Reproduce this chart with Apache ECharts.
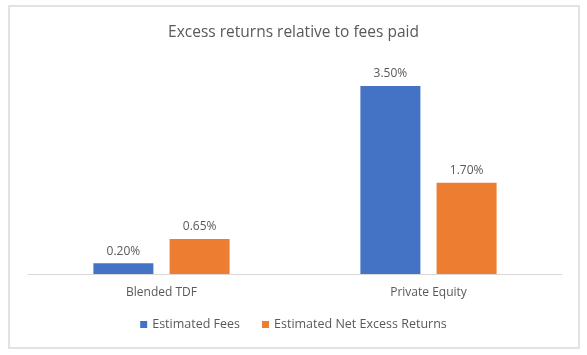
<!DOCTYPE html>
<html><head><meta charset="utf-8">
<script src="https://cdn.jsdelivr.net/npm/echarts@6/dist/echarts.min.js"></script>
<style>html,body{margin:0;padding:0;background:#fff}#c{width:587px;height:355px}</style>
</head><body><div id="c"></div>
<script>
const titleText = 'Excess returns relative to fees paid';
const categories = ['Blended TDF', 'Private Equity'];
const seriesNames = ['Estimated Fees', 'Estimated Net Excess Returns'];
const estimatedFees = [0.20, 3.50];
const estimatedNetExcess = [0.65, 1.70];
const colors = ['#4472C4', '#ED7D31'];
const fontFam = '"Open Sans", "Noto Sans", sans-serif';

const chart = echarts.init(document.getElementById('c'));
const mk = (name, data, color) => ({
  name, type: 'bar', data, barWidth: 60, barGap: '27%',
  itemStyle: { color },
  label: { show: true, position: 'top', distance: 6, color: '#595959', fontSize: 12, fontFamily: fontFam,
           formatter: p => p.value.toFixed(2) + '%' }
});
chart.setOption({
  animation: false,
  title: { text: titleText, left: 'center', top: 20,
           textStyle: { fontSize: 15.5, fontWeight: 'normal', color: '#595959', fontFamily: fontFam } },
  legend: { bottom: 19, left: 'center', itemWidth: 7, itemHeight: 7, itemGap: 22,
            icon: 'rect', textStyle: { color: '#595959', fontSize: 12.5, fontFamily: fontFam } },
  grid: { left: 28, right: 25, top: 59, bottom: 81 },
  xAxis: { type: 'category', data: categories,
           axisLine: { lineStyle: { color: '#d9d9d9', width: 1 } }, axisTick: { show: false },
           axisLabel: { color: '#595959', fontSize: 12, fontFamily: fontFam, margin: 13 } },
  yAxis: { type: 'value', min: 0, max: 4, interval: 1, show: false, splitLine: { show: false } },
  series: [mk(seriesNames[0], estimatedFees, colors[0]), mk(seriesNames[1], estimatedNetExcess, colors[1])],
  graphic: [{ type: 'rect', shape: { x: 9, y: 6, width: 570, height: 342 },
              style: { fill: 'none', stroke: '#d9d9d9', lineWidth: 1.5 }, silent: true }]
});
</script></body></html>
